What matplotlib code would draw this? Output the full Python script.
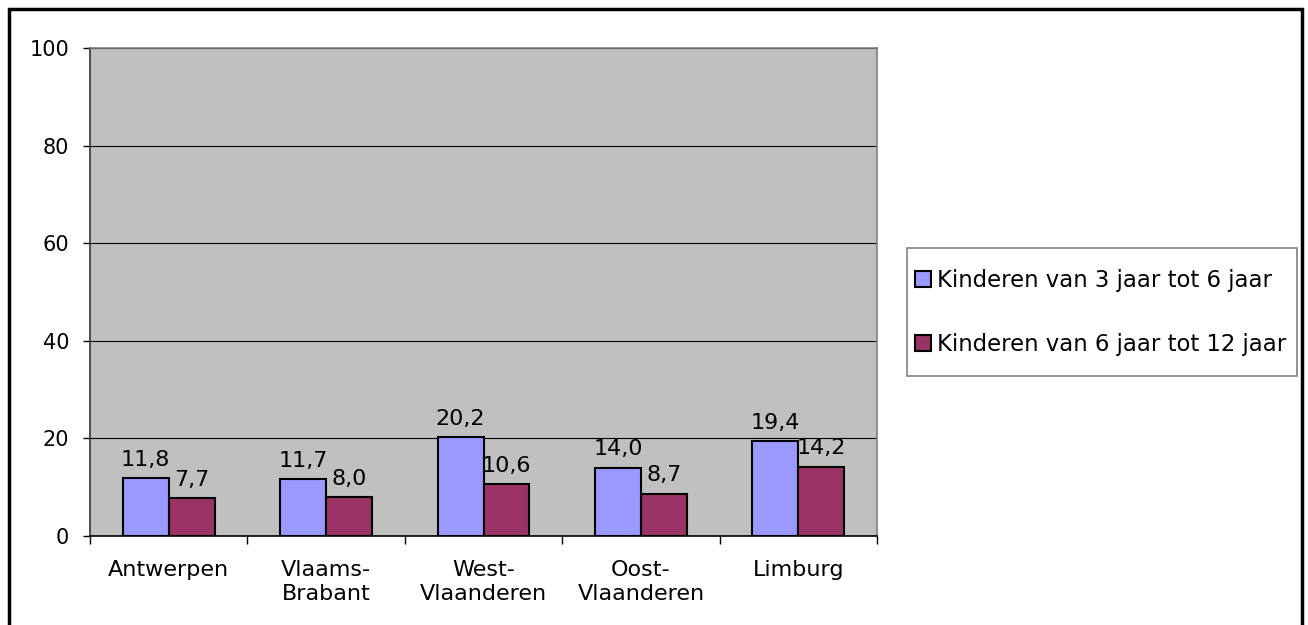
import numpy as np
import matplotlib.pyplot as plt
from matplotlib.patches import Rectangle

provincies = ['Antwerpen', 'Vlaams-\nBrabant', 'West-\nVlaanderen', 'Oost-\nVlaanderen', 'Limburg']
kind_3_6 = [11.8, 11.7, 20.2, 14.0, 19.4]
kind_6_12 = [7.7, 8.0, 10.6, 8.7, 14.2]
reeksen = ['Kinderen van 3 jaar tot 6 jaar', 'Kinderen van 6 jaar tot 12 jaar']

plt.rcParams['font.family'] = 'DejaVu Sans'
fs = 16
fig = plt.figure(figsize=(13.08, 6.25), dpi=100)
ax = fig.add_axes([90/1308, 89/625, 787/1308, 488/625])
ax.set_facecolor('#C0C0C0')

x = np.arange(len(provincies))
w = 0.292
b1 = ax.bar(x - w/2, kind_3_6, w, color='#9999FF', edgecolor='black', linewidth=1.5, label=reeksen[0], zorder=3)
b2 = ax.bar(x + w/2, kind_6_12, w, color='#993366', edgecolor='black', linewidth=1.5, label=reeksen[1], zorder=3)

for bars, vals in [(b1, kind_3_6), (b2, kind_6_12)]:
    for r, v in zip(bars, vals):
        ax.annotate(f'{v:.1f}'.replace('.', ','), (r.get_x() + r.get_width()/2, v),
                    xytext=(0, 6), textcoords='offset points', ha='center', va='bottom',
                    fontsize=fs, zorder=4)

ax.set_xlim(-0.5, len(provincies) - 0.5)
ax.set_ylim(0, 100)
ax.set_yticks(range(0, 101, 20))
ax.yaxis.grid(True, color='black', linewidth=0.8, zorder=1)
ax.set_xticks(x)
ax.set_xticklabels(provincies, fontsize=fs, linespacing=1.3)
ax.set_xticks(np.arange(-0.5, len(provincies)), minor=True)
ax.tick_params(axis='x', which='major', length=0, pad=17)
ax.tick_params(axis='x', which='minor', length=6, width=1, color='black', direction='out')
ax.tick_params(axis='y', labelsize=15, length=5, width=1, direction='out', pad=10)

ax.spines['left'].set_color('#333333')
ax.spines['bottom'].set_color('black')
ax.spines['top'].set_color('#808080')
ax.spines['right'].set_color('#808080')
for s in ax.spines.values():
    s.set_linewidth(1.2)

leg = ax.legend(loc='center left', bbox_to_anchor=(915/1308, (625 - 312)/625),
                bbox_transform=fig.transFigure, fontsize=16.4, frameon=False,
                handlelength=0.7, handleheight=0.7, handletextpad=0.25,
                borderaxespad=0, borderpad=0, labelspacing=1.8)

fig.patches.append(Rectangle((907/1308, 249/625), 390/1308, 128/625, transform=fig.transFigure,
                             fill=False, edgecolor='#808080', linewidth=1.2))
# outer frame, bottom edge runs off the picture
fig.patches.append(Rectangle((9/1308, -20/625), 1293/1308, 636/625, transform=fig.transFigure,
                             fill=False, edgecolor='black', linewidth=2.5))

plt.savefig('out.png')
